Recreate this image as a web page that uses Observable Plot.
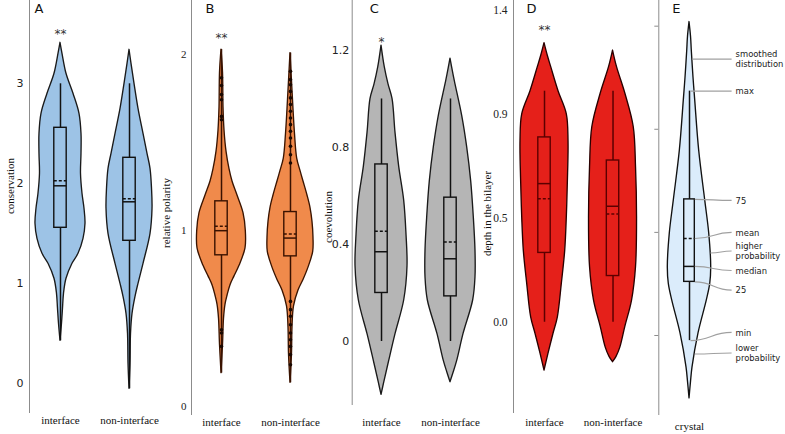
<!DOCTYPE html>
<html><head><meta charset="utf-8">
<script src="https://cdn.jsdelivr.net/npm/d3@7"></script>
<script src="https://cdn.jsdelivr.net/npm/@observablehq/plot@0.6"></script>
<style>
body{margin:0;background:#fff}
#fig{position:relative;width:785px;height:434px;overflow:hidden;background:#fff}
.p{position:absolute;top:0}
</style>
</head><body><div id="fig"></div>
<script>
// ---------- categories ----------
const cats = ["interface", "non-interface"];
const crystalCats = ["crystal"];

// ---------- Panel A: conservation ----------
const aTicks = [0, 1, 2, 3];
const aTickLabels = ["0", "1", "2", "3"];
const aIntY = [3.41, 3.3, 3.1, 2.9, 2.7, 2.5, 2.3, 2.1, 1.9, 1.75, 1.6, 1.45, 1.3, 1.2, 1.05, 0.9, 0.75, 0.6, 0.43];
const aIntD = [0, 2, 6, 13, 19, 21, 21, 20.5, 22, 24, 25, 23, 18, 12, 6, 3.5, 2.5, 1.5, 0];
const aNonY = [3.34, 3.2, 3.0, 2.75, 2.5, 2.3, 2.15, 1.95, 1.75, 1.5, 1.2, 1.0, 0.87, 0.7, 0.5, 0.2, -0.05];
const aNonD = [0, 2, 5, 9, 14, 18, 21, 22.5, 23, 21, 14, 9, 6, 3, 1.5, 1, 0];
// min, q1, median, mean, q3, max
const aIntStats = [0.43, 1.56, 1.98, 2.03, 2.56, 3.0];
const aNonStats = [-0.05, 1.43, 1.82, 1.85, 2.26, 3.0];

// ---------- Panel B: relative polarity ----------
const bTicks = [0, 1, 2];
const bTickLabels = ["0", "1", "2"];
const bIntY = [2.03, 1.9, 1.7, 1.57, 1.45, 1.35, 1.28, 1.2, 1.1, 1.0, 0.9, 0.8, 0.74, 0.69, 0.63, 0.58, 0.5, 0.35, 0.19];
const bIntD = [0, 1.5, 2, 3, 5, 8, 11, 16, 22, 24.3, 24, 18, 13, 9, 6, 4, 2.5, 1.5, 0];
const bNonY = [2.01, 1.85, 1.69, 1.55, 1.41, 1.34, 1.28, 1.2, 1.13, 1.05, 0.96, 0.88, 0.79, 0.72, 0.66, 0.57, 0.45, 0.3, 0.135];
const bNonD = [0, 1.5, 3, 4.5, 6.7, 10, 13, 17, 20, 22, 23, 22.7, 18, 13, 8, 3.5, 2, 1.5, 0];
const bIntStats = [0.19, 0.86, 1.0, 1.025, 1.167, 2.03];
const bNonStats = [0.135, 0.854, 0.958, 0.981, 1.106, 2.01];
const bIntOutliers = [1.869, 1.825, 1.774, 1.745, 1.65, 1.631, 0.437, 0.418, 0.342];
const bNonOutliers = [1.906, 1.859, 1.83, 1.792, 1.755, 1.717, 1.679, 1.641, 1.603, 1.565, 1.527, 1.48, 1.432, 1.385,
  0.598, 0.551, 0.513, 0.465, 0.418, 0.38, 0.342, 0.295, 0.238];

// ---------- Panel C: coevolution ----------
const cTicks = [0, 0.4, 0.8, 1.2];
const cTickLabels = ["0", "0.4", "0.8", "1.2"];
const cIntY = [1.22, 1.13, 1.06, 1.0, 0.86, 0.72, 0.58, 0.44, 0.31, 0.17, 0.03, -0.08, -0.17, -0.22];
const cIntD = [0, 3.3, 7, 11, 14, 17.7, 22.7, 25, 26, 22.7, 14, 7.7, 2.7, 0];
const cNonY = [1.166, 1.1, 1.06, 0.93, 0.8, 0.66, 0.513, 0.375, 0.265, 0.17, 0.03, -0.08, -0.13, -0.168];
const cNonD = [0, 3, 5, 11.7, 16.7, 20.7, 23.3, 25, 25, 22.7, 13, 6.7, 3, 0];
const cIntStats = [0, 0.2, 0.37, 0.455, 0.73, 1.0];
const cNonStats = [0, 0.186, 0.341, 0.41, 0.593, 1.0];

// ---------- Panel D: depth in the bilayer ----------
const dTicks = [0, 0.45, 0.9, 1.35];
const dTickLabels = ["0.0", "0.5", "0.9", "1.4"];
const dIntY = [1.208, 1.15, 1.104, 1.0, 0.9, 0.785, 0.6, 0.455, 0.31, 0.166, 0.02, -0.05, -0.136, -0.209];
const dIntD = [0, 3.5, 6.7, 14, 22.3, 24, 23.3, 22.3, 20.7, 17.3, 13.3, 9, 4, 0];
const dNonY = [1.176, 1.104, 0.99, 0.845, 0.67, 0.455, 0.24, 0.094, -0.02, -0.11, -0.15, -0.173];
const dNonD = [0, 4, 12.3, 20.7, 23, 24, 23, 19, 12.3, 7.3, 3.5, 0];
const dIntStats = [0, 0.30, 0.60, 0.534, 0.80, 1.0];
const dNonStats = [0, 0.20, 0.502, 0.469, 0.70, 1.0];

// ---------- Panel E: legend (crystal) ----------
const eTicks = [0, 1, 2, 3];
const eY = [3.04, 2.9, 2.76, 2.5, 2.28, 1.79, 1.31, 0.99, 0.66, 0.5, 0.34, 0.02, -0.31, -0.45, -0.61];
const eD = [0, 1.5, 2.3, 4, 5.7, 9.7, 15.7, 19.7, 21.7, 20.7, 17.3, 9, 3, 1.5, 0];
const eStats = [-0.05, 0.52, 0.67, 0.94, 1.32, 2.37];
const eAnnLabels = ["smoothed\ndistribution", "max", "75", "mean", "higher\nprobability", "median", "25", "min", "lower\nprobability"];
const eAnnKind = ["edge", "whisker", "box", "box", "edge", "box", "box", "whisker", "edge"];
const eAnnAnchorY = [2.68, 2.37, 1.32, 0.94, 0.80, 0.67, 0.52, -0.05, -0.18];
const eAnnLabelY = [2.68, 2.37, 1.31, 1.0, 0.82, 0.63, 0.44, 0.03, -0.17];

// ---------- helpers ----------
const SERIF = "Liberation Serif, Times New Roman, serif";
const SANS = "DejaVu Sans, Verdana, sans-serif";
const BOX_HALF_PX = 6.2;

function densAt(ys, ds, v) {
  for (let i = 0; i < ys.length - 1; i++) {
    const a = ys[i], b = ys[i + 1];
    if ((v <= a && v >= b)) {
      const t = (a - v) / (a - b);
      return ds[i] + t * (ds[i + 1] - ds[i]);
    }
  }
  return 0;
}

function violinMarks(c, ys, ds, st, o) {
  const k = 1 / o.spacing;
  const bw = (o.boxHalf || BOX_HALF_PX) * k;
  const rows = ys.map((y, j) => ({y, x1: c - ds[j] * k, x2: c + ds[j] * k}));
  const s = {min: st[0], q1: st[1], median: st[2], mean: st[3], q3: st[4], max: st[5]};
  return [
    Plot.areaX(rows, {y: "y", x1: "x1", x2: "x2", fill: o.fill, stroke: o.outline, strokeWidth: 1.35, curve: "catmull-rom"}),
    Plot.ruleX([s], {x: () => c, y1: "q3", y2: "max", stroke: o.line, strokeWidth: 1.5}),
    Plot.ruleX([s], {x: () => c, y1: "min", y2: "q1", stroke: o.line, strokeWidth: 1.5}),
    Plot.rect([s], {x1: () => c - bw, x2: () => c + bw, y1: "q1", y2: "q3", fill: "none", stroke: o.line, strokeWidth: 1.4}),
    Plot.ruleY([s], {y: "median", x1: () => c - bw, x2: () => c + bw, stroke: o.line, strokeWidth: 1.5}),
    Plot.ruleY([s], {y: "mean", x1: () => c - bw, x2: () => c + bw, stroke: o.line, strokeWidth: 1.5, strokeDasharray: "3,2"})
  ];
}

function panel(o) {
  const marks = [];
  marks.push(Plot.ruleX([o.xDomain[0]], {stroke: "#8c8c8c", strokeWidth: 1}));
  o.groups.forEach((g, i) => {
    marks.push(...violinMarks(i, g.y, g.d, g.stats, o));
    if (g.outliers) marks.push(Plot.dot(g.outliers, {x: () => i, y: d => d, r: 1.8, fill: "#1a0800", stroke: "none"}));
  });
  marks.push(Plot.axisY({
    ticks: o.yTicks,
    tickFormat: (d) => o.yTickLabels ? o.yTickLabels[o.yTicks.indexOf(d)] : "",
    tickSize: o.yTickSize || 0, tickPadding: o.tickPadding, stroke: "#8c8c8c",
    fontSize: o.tickFontSize, fontFamily: o.tickFont, label: null, fill: "#222"
  }));
  marks.push(Plot.axisX({
    ticks: o.catLabels.map((_, i) => i),
    tickFormat: i => o.catLabels[i],
    tickSize: 0, tickPadding: o.xPad, fontSize: 11, fontFamily: SERIF, label: null, fill: "#111"
  }));
  if (o.label) {
    marks.push(Plot.text([o.label], {frameAnchor: "left", text: d => d, rotate: -90, dx: -o.labelOffset, dy: o.labelDy,
      fontSize: 11, fontFamily: SERIF, fill: "#111", textAnchor: "middle"}));
  }
  marks.push(Plot.text([o.letter], {frameAnchor: "top-left", text: d => d, dx: o.letterDx, dy: 3.5, lineAnchor: "top",
    textAnchor: "start", fontSize: 13, fontFamily: SANS, fill: "#111"}));
  if (o.star) {
    marks.push(Plot.text([o.star], {x: () => 0, y: () => o.starY, text: d => d, fontSize: 12, fontFamily: SANS,
      fill: "#333", lineAnchor: "middle"}));
  }
  if (o.extra) marks.push(...o.extra);
  const svg = Plot.plot({
    width: o.width, height: 434,
    marginLeft: o.marginLeft, marginRight: 0, marginTop: 0, marginBottom: o.marginBottom,
    x: {type: "linear", domain: o.xDomain},
    y: {type: "linear", domain: o.yDomain},
    style: {background: "transparent", overflow: "visible"},
    marks
  });
  const wrap = document.createElement("div");
  wrap.className = "p";
  wrap.style.left = o.left + "px";
  wrap.appendChild(svg);
  document.getElementById("fig").appendChild(wrap);
}

// Panel A
panel({
  left: 0, width: 160, marginLeft: 29, marginBottom: 21, spacing: 69,
  xDomain: [-0.449, 1.449], yDomain: [-0.297, 3.833],
  yTicks: aTicks, yTickLabels: aTickLabels, tickFont: SANS, tickFontSize: 11, tickPadding: 6,
  label: "conservation", labelOffset: 19, labelDy: -21,
  catLabels: cats, xPad: 3, letter: "A", letterDx: 5, star: "**", starY: 3.5,
  fill: "#9dc3e6", outline: "#1a1a1a", line: "#111",
  groups: [{y: aIntY, d: aIntD, stats: aIntStats}, {y: aNonY, d: aNonD, stats: aNonStats}]
});

// Panel B
panel({
  left: 160, width: 160, marginLeft: 31, marginBottom: 19, spacing: 69,
  xDomain: [-0.435, 1.435], yDomain: [-0.051, 2.309],
  yTicks: bTicks, yTickLabels: bTickLabels, tickFont: SERIF, tickFontSize: 11, tickPadding: 5,
  label: "relative polarity", labelOffset: 25, labelDy: 5,
  catLabels: cats, xPad: 3, letter: "B", letterDx: 14, star: "**", starY: 2.094,
  fill: "#f08a4b", outline: "#3a1400", line: "#3a1200",
  groups: [{y: bIntY, d: bIntD, stats: bIntStats, outliers: bIntOutliers},
           {y: bNonY, d: bNonD, stats: bNonStats, outliers: bNonOutliers}]
});

// Panel C
panel({
  left: 320, width: 160, marginLeft: 31.7, marginBottom: 29, spacing: 69,
  xDomain: [-0.425, 1.435], yDomain: [-0.264, 1.406],
  yTicks: cTicks, yTickLabels: cTickLabels, tickFont: SANS, tickFontSize: 11, tickPadding: 3,
  label: "coevolution", labelOffset: 24, labelDy: 14,
  catLabels: cats, xPad: 13, letter: "C", letterDx: 17.6, star: "*", starY: 1.235,
  fill: "#b5b5b5", outline: "#1a1a1a", line: "#111",
  groups: [{y: cIntY, d: cIntD, stats: cIntStats}, {y: cNonY, d: cNonD, stats: cNonStats}]
});

// Panel D
panel({
  left: 480, width: 160, marginLeft: 33, marginBottom: 21, spacing: 68.5,
  xDomain: [-0.4526, 1.401], yDomain: [-0.395, 1.3926],
  yTicks: dTicks, yTickLabels: dTickLabels, tickFont: SERIF, tickFontSize: 11.5, tickPadding: 6,
  label: "depth in the bilayer", labelOffset: 26, labelDy: 6.5,
  catLabels: cats, xPad: 5, letter: "D", letterDx: 13, star: "**", starY: 1.265,
  fill: "#e5201a", outline: "#2a0000", line: "#5c0000",
  groups: [{y: dIntY, d: dIntD, stats: dIntStats}, {y: dNonY, d: dNonD, stats: dNonStats}]
});

// Panel E (annotated legend)
{
  const spacing = 69;
  const k = 1 / spacing;
  const bw = 5.3 * k;
  const LINK_END = 0.61;
  const rows = eAnnLabels.map((label, i) => {
    const ay = eAnnAnchorY[i];
    let ax = 0;
    if (eAnnKind[i] === "box") ax = bw;
    else if (eAnnKind[i] === "whisker") ax = 1 * k;
    else ax = densAt(eY, eD, ay) * k;
    return {label, ax, ay, ly: eAnnLabelY[i]};
  });
  const extra = [
    Plot.link(rows, {x1: "ax", y1: "ay", x2: () => LINK_END, y2: "ly", curve: "bump-x", stroke: "#a0a0a0", strokeWidth: 1.1}),
    Plot.text(rows, {x: () => LINK_END, y: "ly", text: "label", dx: 4, textAnchor: "start", lineAnchor: "middle",
      fontSize: 8.4, fontFamily: SANS, lineHeight: 1.18, fill: "#1a1a1a"})
  ];
  panel({
    left: 640, width: 145, marginLeft: 18.3, marginBottom: 19, spacing, boxHalf: 5.3,
    xDomain: [-0.445, 1.391], yDomain: [-0.776, 3.249],
    yTicks: eTicks, yTickLabels: null, yTickSize: 4, tickFont: SANS, tickFontSize: 10, tickPadding: 2,
    label: null, catLabels: crystalCats, xPad: 7, letter: "E", letterDx: 13.4,
    fill: "#dbecfb", outline: "#111", line: "#111",
    groups: [{y: eY, d: eD, stats: eStats}],
    extra
  });
}
</script></body></html>
